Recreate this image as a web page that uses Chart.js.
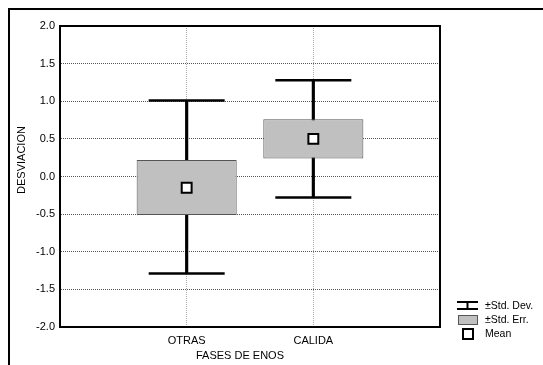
<!DOCTYPE html>
<html>
<head>
<meta charset="utf-8">
<script src="https://cdn.jsdelivr.net/npm/chart.js@4"></script>
<style>
  html, body { margin: 0; padding: 0; background: #fff; }
  #wrap { width: 543px; height: 365px; position: relative; }
</style>
</head>
<body>
<div id="wrap"><canvas id="chart" width="543" height="365"></canvas></div>
<script>
// categories (blank slots at the ends keep the boxes at 1/3 and 2/3 of the width)
const labels = ['', 'OTRAS', 'CALIDA', ''];
const means = [null, -0.15, 0.50, null];
const errLow = [null, -0.51, 0.24, null];
const errHigh = [null, 0.22, 0.76, null];
const sdLow = [null, -1.29, -0.28, null];
const sdHigh = [null, 1.01, 1.28, null];
const yTicks = [-2.0, -1.5, -1.0, -0.5, 0.0, 0.5, 1.0, 1.5, 2.0];

const FONT = '"Liberation Sans", Arial, sans-serif';

const boxData = errLow.map((v, i) => v === null ? null : [v, errHigh[i]]);
const stemData = sdLow.map((v, i) => v === null ? null : [v, sdHigh[i]]);
// only the real categories get a marker (end slots stay 0 so the layout keeps its padding)
const capRadius = labels.map(l => l ? 38 : 0);
const meanRadius = labels.map(l => l ? 7 : 0);

// frame, axis titles and legend
const decor = {
    id: 'decor',
    beforeDraw(chart){
        const ctx = chart.ctx;
        ctx.save();
        ctx.strokeStyle = '#000';
        ctx.lineWidth = 2;
        ctx.beginPath();
        ctx.moveTo(9, 365);
        ctx.lineTo(9, 9);
        ctx.lineTo(543, 9);
        ctx.stroke();
        ctx.restore();
    },
    afterDraw(chart){
        const ctx = chart.ctx;
        const a = chart.chartArea;
        ctx.save();
        ctx.strokeStyle = '#000';
        ctx.lineWidth = 2;
        ctx.strokeRect(a.left, a.top, a.right - a.left, a.bottom - a.top);

        ctx.fillStyle = '#000';
        ctx.font = '11px ' + FONT;
        ctx.textAlign = 'center';
        ctx.textBaseline = 'middle';
        ctx.fillText('FASES DE ENOS', 240, 356);
        ctx.translate(22, 160);
        ctx.rotate(-Math.PI / 2);
        ctx.fillText('DESVIACION', 0, 0);
        ctx.restore();

        // legend
        ctx.save();
        ctx.strokeStyle = '#000';
        ctx.fillStyle = '#000';
        ctx.lineWidth = 2;
        ctx.beginPath();
        ctx.moveTo(457, 302); ctx.lineTo(478, 302);
        ctx.moveTo(457, 309); ctx.lineTo(478, 309);
        ctx.moveTo(467.5, 302); ctx.lineTo(467.5, 309);
        ctx.stroke();
        ctx.fillStyle = '#c0c0c0';
        ctx.lineWidth = 1;
        ctx.fillRect(458, 315, 19, 9);
        ctx.strokeStyle = '#555';
        ctx.strokeRect(458.5, 315.5, 19, 9);
        ctx.fillStyle = '#fff';
        ctx.strokeStyle = '#000';
        ctx.lineWidth = 2;
        ctx.fillRect(463, 329, 10, 10);
        ctx.strokeRect(463, 329, 10, 10);
        ctx.fillStyle = '#000';
        ctx.font = '10.5px ' + FONT;
        ctx.textAlign = 'left';
        ctx.textBaseline = 'middle';
        ctx.fillText('\u00b1Std. Dev.', 485, 306);
        ctx.fillText('\u00b1Std. Err.', 485, 320);
        ctx.fillText('Mean', 485, 334);
        ctx.restore();
    }
};

new Chart(document.getElementById('chart'), {
    type: 'bar',
    data: {
        labels: labels,
        datasets: [
            {
                type: 'line',
                label: 'Mean',
                data: means,
                showLine: false,
                pointStyle: 'rect',
                pointRadius: meanRadius,
                pointBackgroundColor: '#fff',
                pointBorderColor: '#000',
                pointBorderWidth: 2,
                order: 0
            },
            {
                label: '\u00b1Std. Err.',
                data: boxData,
                backgroundColor: '#c0c0c0',
                borderColor: '#555',
                borderWidth: 1,
                borderSkipped: false,
                grouped: false,
                categoryPercentage: 1,
                barPercentage: 0.79,
                order: 1
            },
            {
                type: 'line',
                label: 'sd high',
                data: sdHigh,
                showLine: false,
                pointStyle: 'line',
                pointRadius: capRadius,
                pointBorderColor: '#000',
                pointBorderWidth: 2.5,
                order: 2
            },
            {
                type: 'line',
                label: 'sd low',
                data: sdLow,
                showLine: false,
                pointStyle: 'line',
                pointRadius: capRadius,
                pointBorderColor: '#000',
                pointBorderWidth: 2.5,
                order: 2
            },
            {
                label: '\u00b1Std. Dev.',
                data: stemData,
                backgroundColor: '#000',
                borderWidth: 0,
                grouped: false,
                barThickness: 2.5,
                order: 3
            }
        ]
    },
    options: {
        responsive: false,
        animation: false,
        devicePixelRatio: 1,
        layout: { padding: { left: 0, top: 26, right: 103, bottom: 0 } },
        plugins: {
            legend: { display: false },
            tooltip: { enabled: false }
        },
        scales: {
            x: {
                offset: false,
                grid: { color: '#aaa', drawTicks: false, lineWidth: 1, offset: false },
                border: { display: true, color: '#000', width: 2, dash: [1, 1] },
                ticks: { color: '#000', font: { family: FONT, size: 11 }, padding: 7, maxRotation: 0 },
                afterFit(scale){ scale.height = 38; }
            },
            y: {
                min: -2,
                max: 2,
                afterBuildTicks(scale){ scale.ticks = yTicks.map(v => ({ value: v })); },
                grid: { color: '#555', drawTicks: false, lineWidth: 1 },
                border: { display: true, color: '#000', width: 2, dash: [1, 1] },
                ticks: {
                    color: '#000',
                    font: { family: FONT, size: 11 },
                    padding: 5,
                    callback: v => v.toFixed(1)
                },
                afterFit(scale){ scale.width = 60; }
            }
        }
    },
    plugins: [decor]
});
</script>
</body>
</html>
